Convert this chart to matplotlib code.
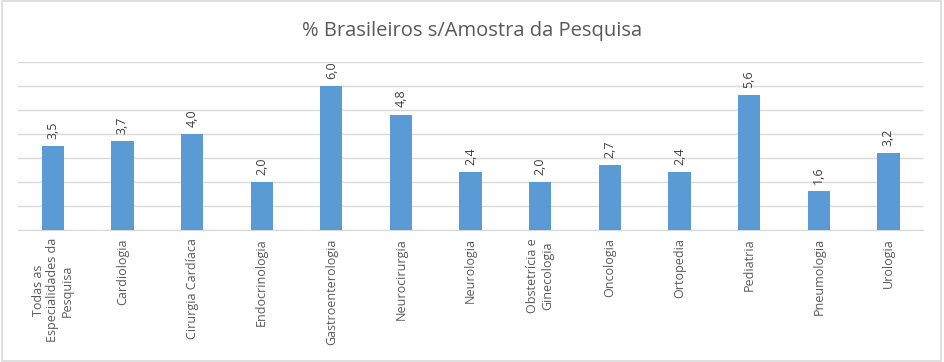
import matplotlib.pyplot as plt
import numpy as np

# Dados
especialidades = ['Todas as\nEspecialidades da\nPesquisa', 'Cardiologia', 'Cirurgia Cardíaca',
                  'Endocrinologia', 'Gastroenterologia', 'Neurocirurgia', 'Neurologia',
                  'Obstetrícia e\nGinecologia', 'Oncologia', 'Ortopedia', 'Pediatria',
                  'Pneumologia', 'Urologia']
valores = [3.5, 3.7, 4.0, 2.0, 6.0, 4.8, 2.4, 2.0, 2.7, 2.4, 5.6, 1.6, 3.2]

plt.rcParams['font.family'] = ['Open Sans', 'DejaVu Sans']

fig = plt.figure(figsize=(9.44, 3.62), dpi=100)
ax = fig.add_axes([0.019, 0.365, 0.959, 0.464])

x = np.arange(len(valores))
ax.bar(x, valores, width=0.32, color='#5B9BD5', zorder=3)

for xi, v in zip(x, valores):
    ax.text(xi, v + 0.3, f'{v:.1f}'.replace('.', ','), rotation=90, ha='center', va='bottom',
            fontsize=9, color='#404040')

ax.set_xlim(-0.5, len(valores) - 0.5)
ax.set_ylim(0, 7)
ax.set_yticks(np.arange(0, 8, 1))
ax.yaxis.grid(True, color='#D9D9D9', linewidth=1)
ax.tick_params(axis='y', left=False, labelleft=False)
ax.tick_params(axis='x', length=0, pad=6)
ax.set_xticks(x)
ax.set_xticklabels(especialidades, rotation=90, fontsize=9, color='#595959',
                   ha='center', va='top', multialignment='center', linespacing=1.15)
for s in ['top', 'right', 'left']:
    ax.spines[s].set_visible(False)
ax.spines['bottom'].set_color('#D9D9D9')

fig.text(0.5, 0.915, '% Brasileiros s/Amostra da Pesquisa', ha='center', va='center',
         fontsize=14.5, color='#595959')

# moldura
fig.patches.append(plt.Rectangle((0.002, 0.003), 0.995, 0.993, transform=fig.transFigure,
                                 fill=False, edgecolor='#D9D9D9', linewidth=1.2))

plt.savefig('out.png', dpi=100)
